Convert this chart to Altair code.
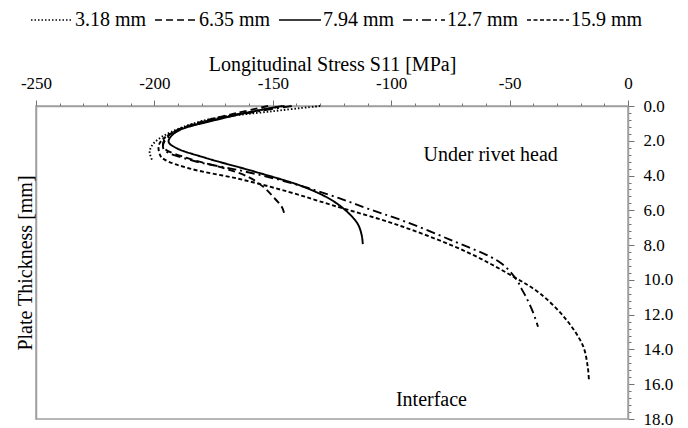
import altair as alt
import pandas as pd

FONT = "Liberation Serif"

series = ["3.18 mm", "6.35 mm", "7.94 mm", "12.7 mm", "15.9 mm"]
dashes = [[1.5, 2], [7, 4], [1, 0], [9, 4, 2, 4], [4, 2.5]]

# stress [MPa] / depth [mm] pairs per curve
s318_x = [-130, -150, -178, -193, -200, -202, -201]
s318_y = [0.0, 0.3, 0.8, 1.5, 2.1, 2.6, 3.1]

s635_x = [-152, -165, -180, -192, -196, -196, -186, -170, -160, -154, -150, -146, -145]
s635_y = [0.0, 0.4, 0.9, 1.5, 2.0, 2.4, 3.0, 3.6, 4.1, 4.65, 5.2, 5.85, 6.3]

s794_x = [-146, -158, -174, -191, -194, -191, -178, -157, -136, -123, -114.5, -112.5, -112]
s794_y = [0.0, 0.3, 0.8, 1.5, 2.05, 2.4, 3.0, 3.8, 4.7, 5.6, 6.7, 7.4, 7.94]

s127_x = [-142, -156, -175, -191, -196, -196, -185, -164, -143, -122, -110, -96, -75, -54, -47, -45, -43, -40, -38]
s127_y = [0.0, 0.3, 0.8, 1.5, 2.1, 2.5, 3.1, 3.7, 4.4, 5.3, 5.9, 6.55, 7.7, 9.0, 10.0, 10.5, 11.0, 11.9, 12.7]

s159_x = [-145, -158, -176, -192, -198, -197.5, -195.5, -185, -164, -143, -125, -96, -68, -48.6, -37, -26, -19, -17, -16.5]
s159_y = [0.0, 0.3, 0.8, 1.5, 2.2, 2.85, 3.1, 3.6, 4.2, 4.95, 5.7, 6.9, 8.4, 9.8, 10.8, 12.3, 13.8, 15.0, 15.75]

notes_text = ["Under rivet head", "Interface"]
notes_x = [-58, -83]
notes_y = [2.8, 16.9]

rows = []
for name, xs, ys in zip(series,
                        [s318_x, s635_x, s794_x, s127_x, s159_x],
                        [s318_y, s635_y, s794_y, s127_y, s159_y]):
    for i, (a, b) in enumerate(zip(xs, ys)):
        rows.append({"series": name, "stress": a, "depth": b, "idx": i})
df = pd.DataFrame(rows)
notes = pd.DataFrame({"text": notes_text, "stress": notes_x, "depth": notes_y})

x_vals = list(range(-250, 1, 10))
y_vals = [round(k * 0.4, 1) for k in range(46)]

xscale = alt.Scale(domain=[-250, 0], nice=False, zero=False)
yscale = alt.Scale(domain=[0, 18], reverse=True, nice=False, zero=False)


def x_axis():
    return alt.Axis(
        orient="top", values=x_vals, grid=False, labelOverlap=False, labelFlush=False,
        labelExpr="datum.value % 50 === 0 ? '' + datum.value : ''",
        tickSize={"condition": {"test": "datum.value % 50 === 0", "value": 6}, "value": 3},
        labelPadding=8, title="Longitudinal Stress S11 [MPa]", titlePadding=0)


lines = alt.Chart(df).mark_line(strokeWidth=1.9, color="black", interpolate="catmull-rom").encode(
    x=alt.X("stress:Q", scale=xscale, axis=x_axis()),
    y=alt.Y("depth:Q", scale=yscale, axis=alt.Axis(
        orient="right", values=y_vals, grid=False, labelOverlap=False, labelFlush=False,
        labelExpr="abs(datum.value / 2 - round(datum.value / 2)) < 0.001 ? format(datum.value, '.1f') : ''",
        tickSize={"condition": {"test": "abs(datum.value / 2 - round(datum.value / 2)) < 0.001", "value": 6}, "value": 3},
        labelPadding=9, title=None)),
    strokeDash=alt.StrokeDash("series:N", scale=alt.Scale(domain=series, range=dashes),
                              legend=alt.Legend(
                                  title=None, orient="none", direction="horizontal", columns=5,
                                  legendX=-6, legendY=-108, symbolType="stroke",
                                  symbolSize=1764, symbolStrokeWidth=1.5, symbolStrokeColor="black",
                                  labelFont=FONT, labelFontSize=20, labelOffset=1,
                                  columnPadding=5, labelColor="black")),
    order=alt.Order("idx:Q"),
)

texts = alt.Chart(notes).mark_text(font=FONT, fontSize=20, color="black").encode(
    x=alt.X("stress:Q", scale=xscale, axis=x_axis()),
    y=alt.Y("depth:Q", scale=yscale, axis=alt.Axis(
        orient="left", labels=False, ticks=False, grid=False,
        title="Plate Thickness [mm]", titlePadding=1)),
    text="text:N",
)

chart = alt.layer(lines, texts).resolve_axis(y="independent").properties(
    width=592, height=313,
    autosize=alt.AutoSizeParams(type="none"),
    padding={"left": 28, "top": 98, "right": 52, "bottom": 8},
).configure_axis(
    labelFont=FONT, titleFont=FONT, labelFontSize=17, titleFontSize=20,
    titleFontWeight="normal", labelColor="black", titleColor="black",
    domainColor="#a0a0a0", domainWidth=1.5, tickColor="#707070",
    labelOverlap=False, labelFlush=False,
).configure_view(stroke="#a0a0a0", strokeWidth=1.5)

chart.save("out.html", embed_options={"renderer": "svg", "actions": False})
